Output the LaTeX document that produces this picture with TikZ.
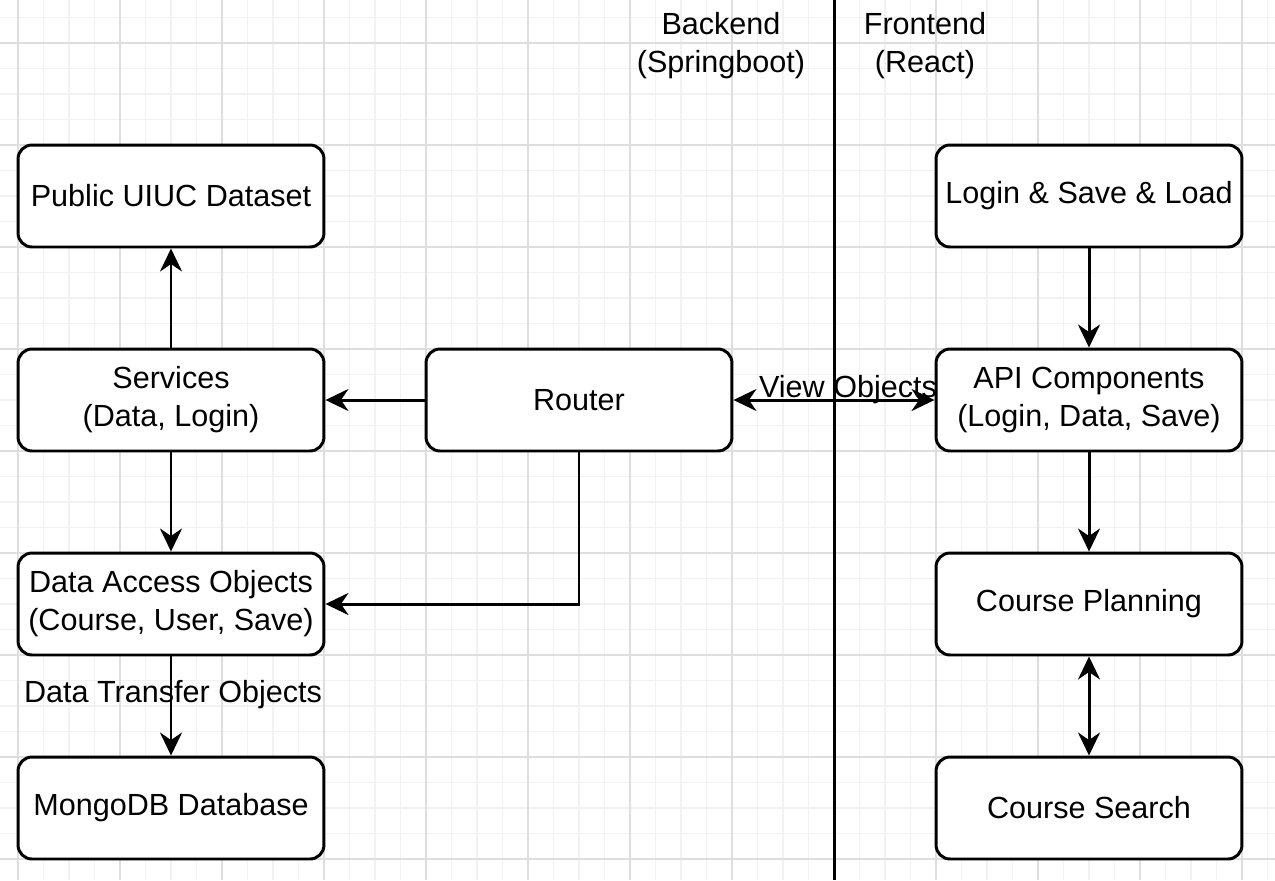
\documentclass[tikz,border=0pt]{standalone}
\usepackage{fontspec}
\setmainfont{Liberation Sans}
\usetikzlibrary{positioning,arrows.meta}
\definecolor{gridminor}{HTML}{F2F2F2}
\definecolor{gridmajor}{HTML}{DEDEDE}

\begin{document}
\begin{tikzpicture}[x=0.02cm, y=-0.02cm,
    every node/.style={font=\fontsize{17.4}{21.6}\selectfont},
    box/.style={draw, rounded corners=0.28cm, line width=1.7pt, fill=white, minimum width=6.12cm, minimum height=2.04cm, align=center, inner sep=0pt},
    arr/.style={line width=1.7pt, -{Stealth[length=0.46cm,width=0.44cm,inset=0.15cm]}},
    arrboth/.style={line width=1.7pt, {Stealth[length=0.46cm,width=0.44cm,inset=0.15cm]}-{Stealth[length=0.46cm,width=0.44cm,inset=0.15cm]}}]

\useasboundingbox (0,0) rectangle (1275,880);
\fill[white] (0,0) rectangle (1275,880);

\foreach \i in {0,...,50} {
    \draw[gridminor, line width=0.6pt] ({18+25.5*(\i-1)},0) -- ++(0,880);
}
\foreach \i in {0,...,33} {
    \draw[gridminor, line width=0.6pt] (0,{43+25.5*(\i-1)}) -- ++(1275,0);
}
\foreach \i in {0,...,12} {
    \draw[gridmajor, line width=0.7pt] ({18+102*\i},0) -- ++(0,880);
}
\foreach \i in {0,...,8} {
    \draw[gridmajor, line width=0.7pt] (0,{43+102*\i}) -- ++(1275,0);
}

\coordinate (divtop) at (834,0);
\coordinate (divbot) at (834,880);
\draw[line width=1.7pt] (divtop) -- (divbot);

\node[align=center] (backend) at (721,46) {Backend\\(Springboot)};
\node[align=center] (frontend) at (925,46) {Frontend\\(React)};

\foreach \name/\x/\y/\txt in {pub/171/196/{Public UIUC Dataset}, serv/171/400/{Services\\(Data, Login)}, dao/171/604/{Data Access Objects\\(Course, User, Save)}, mongo/171/808/{MongoDB Database}, router/579/400/{Router}, login/1089/196/{Login \& Save \& Load}, api/1089/400/{API Components\\(Login, Data, Save)}, plan/1089/604/{Course Planning}, search/1089/808/{Course Search}} {
    \node[box] (\name) at (\x,\y) {\txt};
}

\draw[arr] (serv) -- (pub);
\draw[arr] (serv) -- (dao);
\draw[arr] (router) -- (serv);
\draw[arr] (router.south) |- (dao.east);
\draw[arr] (dao) -- (mongo);
\draw[arrboth] (router) -- (api);
\draw[arr] (login) -- (api);
\draw[arr] (api) -- (plan);
\draw[arrboth] (plan) -- (search);

\node (dtolabel) at (173,695) {Data Transfer Objects};
\node (volabel) at (848,390) {View Objects};
\end{tikzpicture}
\end{document}
